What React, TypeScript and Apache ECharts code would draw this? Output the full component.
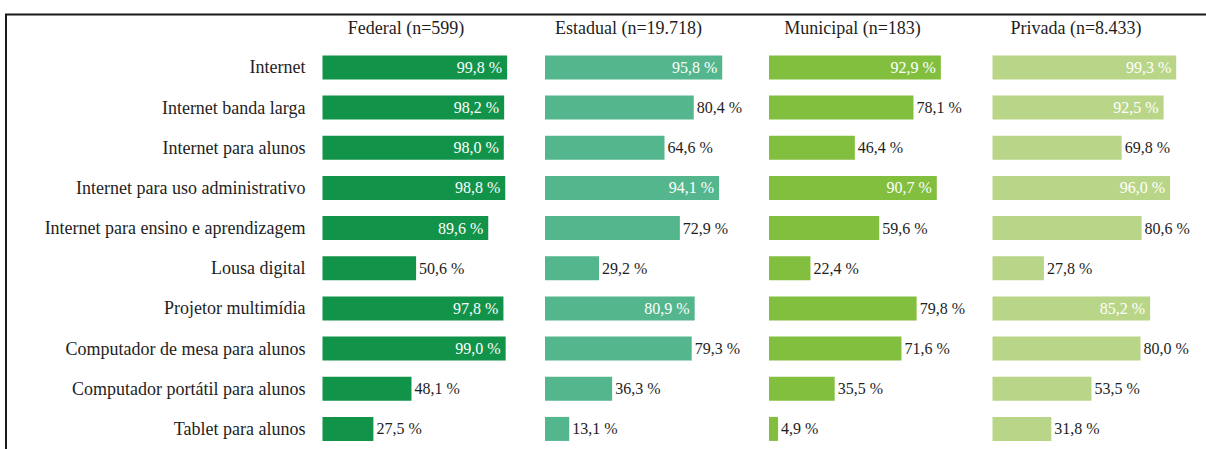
import { useEffect, useRef } from "react";
import * as echarts from "echarts";

const categories = [
  "Internet",
  "Internet banda larga",
  "Internet para alunos",
  "Internet para uso administrativo",
  "Internet para ensino e aprendizagem",
  "Lousa digital",
  "Projetor multimídia",
  "Computador de mesa para alunos",
  "Computador portátil para alunos",
  "Tablet para alunos",
];

const panelTitles = ["Federal (n=599)", "Estadual (n=19.718)", "Municipal (n=183)", "Privada (n=8.433)"];

const federal = [99.8, 98.2, 98.0, 98.8, 89.6, 50.6, 97.8, 99.0, 48.1, 27.5];
const estadual = [95.8, 80.4, 64.6, 94.1, 72.9, 29.2, 80.9, 79.3, 36.3, 13.1];
const municipal = [92.9, 78.1, 46.4, 90.7, 59.6, 22.4, 79.8, 71.6, 35.5, 4.9];
const privada = [99.3, 92.5, 69.8, 96.0, 80.6, 27.8, 85.2, 80.0, 53.5, 31.8];

// whether the value label sits inside the bar (as in the original)
const federalInside = [1, 1, 1, 1, 1, 0, 1, 1, 0, 0];
const estadualInside = [1, 0, 0, 1, 0, 0, 1, 0, 0, 0];
const municipalInside = [1, 0, 0, 1, 0, 0, 0, 0, 0, 0];
const privadaInside = [1, 1, 0, 1, 0, 0, 1, 0, 0, 0];

const FONT = "Liberation Serif";
const TEXT = "#1e1e1e";

export default function App() {
  const ref = useRef<HTMLDivElement>(null);
  useEffect(() => {
    document.body.style.margin = "0";
    const chart = echarts.init(ref.current!, null, { renderer: "svg" });

    const seriesValues = [federal, estadual, municipal, privada];
    const insideFlags = [federalInside, estadualInside, municipalInside, privadaInside];
    const colors = ["#12934a", "#54b68c", "#82bf3f", "#b9d688"];
    const lefts = [322.5, 545, 769, 992.5];
    const plotW = 185;
    const top = 47.3;
    const height = 404;

    const fmt = (v: number) => v.toFixed(1).replace(".", ",") + " %";

    const option: any = {
      animation: false,
      backgroundColor: "#ffffff",
      textStyle: { fontFamily: FONT },
      grid: lefts.map((l) => ({ left: l, top, width: plotW, height, containLabel: false })),
      xAxis: lefts.map((_, i) => ({
        type: "value",
        gridIndex: i,
        min: 0,
        max: 100,
        show: false,
      })),
      yAxis: lefts.map((_, i) => ({
        type: "category",
        gridIndex: i,
        data: categories,
        inverse: true,
        axisLine: { show: false },
        axisTick: { show: false },
        splitLine: { show: false },
        axisLabel: {
          show: i === 0,
          fontFamily: FONT,
          fontSize: 18,
          color: TEXT,
          margin: 17,
        },
      })),
      series: seriesValues.map((vals, i) => ({
        type: "bar",
        xAxisIndex: i,
        yAxisIndex: i,
        barWidth: 24,
        itemStyle: { color: colors[i] },
        label: {
          show: true,
          fontFamily: FONT,
          fontSize: 16,
          formatter: (p: any) => fmt(p.value),
        },
        data: vals.map((v, j) => ({
          value: v,
          label: insideFlags[i][j]
            ? { position: "insideRight", color: "#ffffff", distance: 5 }
            : { position: "right", color: TEXT, distance: 3 },
        })),
      })),
      graphic: [
        {
          type: "line",
          shape: { x1: 5, y1: 14.5, x2: 1206, y2: 14.5 },
          style: { stroke: "#1a1a1a", lineWidth: 2 },
        },
        {
          type: "line",
          shape: { x1: 6, y1: 14, x2: 6, y2: 449 },
          style: { stroke: "#1a1a1a", lineWidth: 2 },
        },
        ...panelTitles.map((t, i) => ({
          type: "text",
          x: lefts[i] + plotW / 2 - 9,
          y: 28,
          style: {
            text: t,
            fontFamily: FONT,
            fontSize: 18,
            fill: TEXT,
            align: "center",
            verticalAlign: "middle",
          },
        })),
      ],
    };

    chart.setOption(option);
    return () => chart.dispose();
  }, []);
  return <div ref={ref} style={{ width: 1206, height: 449 }} />;
}
